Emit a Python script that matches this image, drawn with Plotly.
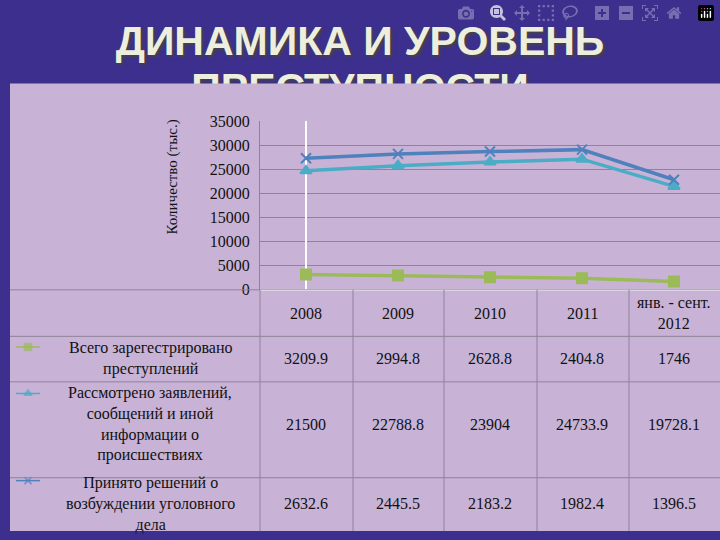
import plotly.graph_objects as go

### DATA ###

periods = ['2008', '2009', '2010', '2011', 'янв. - сент.<br>2012']
registered = [3209.9, 2994.8, 2628.8, 2404.8, 1746]
reviewed = [21500, 22788.8, 23904, 24733.9, 19728.1]
decisions = [2632.6, 2445.5, 2183.2, 1982.4, 1396.5]
series_names = ['Всего зарегестрировано<br>преступлений',
                'Рассмотрено заявлений,<br>сообщений и иной<br>информации о<br>происшествиях',
                'Принято решений о<br>возбуждении уголовного<br>дела']
y_ticks = [0, 5000, 10000, 15000, 20000, 25000, 30000, 35000]

GREEN, CYAN, BLUE = '#9bbb59', '#4bacc6', '#4f81bd'
LAV = '#c8b3d7'
GRID = '#8f8399'
SERIF = 'Liberation Serif'

fig = go.Figure()

# background subplot in pixel coordinates (drawn first, chart goes above it)
fig.add_trace(go.Scatter(
    x=[360, 360], y=[38, 86], mode='text',
    text=['ДИНАМИКА И УРОВЕНЬ', 'ПРЕСТУПНОСТИ'],
    textfont=dict(family='Liberation Sans', size=41, color='#eeeede',
                  weight='bold', shadow='2px 2px 3px #444'),
    xaxis='x', yaxis='y', showlegend=False, hoverinfo='skip'))
fig.add_trace(go.Scatter(
    x=[10, 720, 720, 10, 10], y=[78, 78, 540, 540, 78], fill='toself',
    fillcolor=LAV, line=dict(width=0), mode='lines',
    xaxis='x', yaxis='y', showlegend=False, hoverinfo='skip'))

# legend keys in table
key_y = [350, 398, 488]
for ky, col, sym in zip(key_y, [GREEN, CYAN, BLUE],
                        ['square', 'triangle-up', 'x-thin']):
    fig.add_trace(go.Scatter(
        x=[16, 28, 40], y=[ky] * 3, mode='lines+markers',
        line=dict(color=col, width=1.5),
        marker=dict(symbol=sym, size=[0, 7, 0], color=col,
                    line=dict(color=col, width=1.5)),
        xaxis='x', yaxis='y', showlegend=False, hoverinfo='skip'))

# stacked lines, as in the original chart
for vals, col, sym in zip([registered, reviewed, decisions],
                          [GREEN, CYAN, BLUE],
                          ['square', 'triangle-up', 'x-thin']):
    fig.add_trace(go.Scatter(
        x=list(range(len(periods))), y=vals, stackgroup='s', fill='none',
        mode='lines+markers',
        line=dict(color=col, width=3.5),
        marker=dict(symbol=sym, size=10, color=col,
                    line=dict(color=col, width=2)),
        xaxis='x2', yaxis='y2', showlegend=False))

shapes = []
# table horizontal lines
for yy in [291, 339, 386, 485]:
    shapes.append(dict(type='line', xref='x', yref='y', x0=10, x1=720,
                       y0=yy, y1=yy, line=dict(color=GRID, width=1)))
# table vertical lines
for xx in [260, 353, 444, 537, 629]:
    shapes.append(dict(type='line', xref='x', yref='y', x0=xx, x1=xx,
                       y0=291, y1=540, line=dict(color=GRID, width=1)))

ann = [dict(text='Количество (тыс.)', textangle=-90, xref='x', yref='y',
            x=172, y=175, showarrow=False,
            font=dict(family=SERIF, size=15, color='#111'))]
for i, p in enumerate(periods):
    ann.append(dict(text=p, xref='x2', yref='y', x=i, y=315, showarrow=False,
                    font=dict(family=SERIF, size=16, color='#111')))
for name, ty in zip(series_names, [362, 430, 512]):
    ann.append(dict(text=name, xref='x', yref='y', x=150, y=ty,
                    showarrow=False, align='center',
                    font=dict(family=SERIF, size=16, color='#111')))
for vals, ty in zip([registered, reviewed, decisions], [362, 430, 512]):
    for i, v in enumerate(vals):
        ann.append(dict(text=f'{v:g}', xref='x2', yref='y', x=i, y=ty,
                        showarrow=False,
                        font=dict(family=SERIF, size=16, color='#111')))

fig.update_layout(
    width=720, height=540, margin=dict(l=0, r=0, t=0, b=0),
    paper_bgcolor='#3d2f8e', plot_bgcolor='rgba(0,0,0,0)',
    xaxis=dict(range=[0, 720], domain=[0, 1], visible=False),
    yaxis=dict(range=[540, 0], domain=[0, 1], visible=False),
    xaxis2=dict(domain=[260 / 720, 1], anchor='y2', showticklabels=False,
                showgrid=False, range=[-0.5, 4.5], ticks=''),
    yaxis2=dict(domain=[(540 - 291) / 540, (540 - 117) / 540], anchor='x2',
                range=[0, 35000], tickvals=y_ticks, tickformat='d',
                showgrid=True, gridcolor=GRID, showline=True, linecolor=GRID,
                tickfont=dict(family=SERIF, size=16, color='#111'),
                ticklabelstandoff=6),
    shapes=shapes, annotations=ann,
)

fig.write_html('out.html',
               post_script="document.body.style.margin='0';")
